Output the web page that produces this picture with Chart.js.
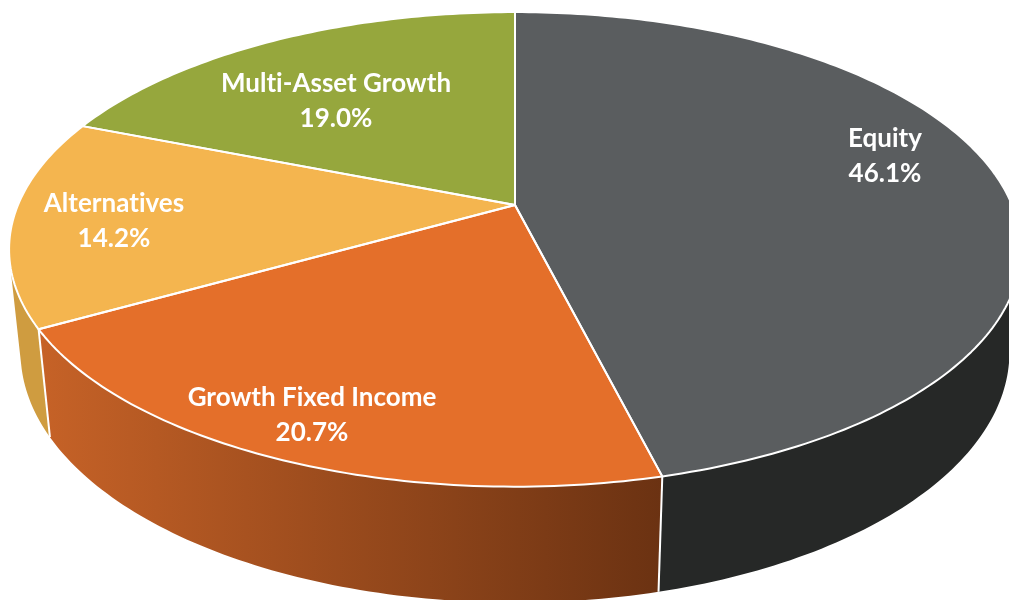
<!DOCTYPE html>
<html>
<head>
<meta charset="utf-8">
<script src="https://cdn.jsdelivr.net/npm/chart.js@4/dist/chart.umd.min.js"></script>
<style>
  html, body { margin: 0; padding: 0; background: #fff; }
  #wrap { width: 1009px; height: 600px; overflow: hidden; }
</style>
</head>
<body>
<div id="wrap"><canvas id="myChart" width="1009" height="600"></canvas></div>
<script>
const categories = ["Equity", "Growth Fixed Income", "Alternatives", "Multi-Asset Growth"];
const shares = [46.1, 20.7, 14.2, 19.0];

const faceColors = ["#5a5d5f", "#e46f2a", "#f4b54f", "#96a73d"];
// x, y of the first label line for each slice
const labelSpots = [[885, 139], [312, 398], [114, 204], [336, 84]];

// perspective of the pie: top face and the lower rim of the side wall
const topRim = { x0: 515, y0: 205, a: 497, b: 229, p: 0.187 };
const lowRim = { x0: 515, y0: 306, a: 486, b: 242, p: 0.184 };

function project(rim, angle) {
  const u = Math.cos(angle), v = Math.sin(angle);
  const s = 1 - rim.p * v;
  return [rim.x0 + rim.a * u / s, rim.y0 + rim.b * v / s];
}

function rimPath(ctx, rim, from, to, start) {
  const steps = Math.max(8, Math.ceil(Math.abs(to - from) * 60));
  for (let i = 0; i <= steps; i++) {
    const pt = project(rim, from + (to - from) * i / steps);
    if (i === 0 && start) ctx.moveTo(pt[0], pt[1]);
    else ctx.lineTo(pt[0], pt[1]);
  }
}

function wallFill(ctx, index) {
  if (index === 0) return "#262827";
  if (index === 2) return "#cf9c40";
  if (index === 1) {
    const g = ctx.createLinearGradient(40, 0, 662, 0);
    g.addColorStop(0, "#c66227");
    g.addColorStop(1, "#6b3212");
    return g;
  }
  return "#7d8b33";
}

// wall as small quads in one path so the outline follows the line between
// the two rims; all wound the same way or the folds at the sides cancel out
function drawWall(ctx, arc, fill) {
  const span = arc.endAngle - arc.startAngle;
  const steps = Math.ceil(span * 60);
  ctx.beginPath();
  for (let i = 0; i < steps; i++) {
    const a0 = arc.startAngle + span * i / steps;
    const a1 = arc.startAngle + span * (i + 1) / steps;
    const quad = [project(topRim, a0), project(topRim, a1), project(lowRim, a1), project(lowRim, a0)];
    let area = 0;
    quad.forEach((p, k) => {
      const q = quad[(k + 1) % 4];
      area += p[0] * q[1] - q[0] * p[1];
    });
    if (area < 0) quad.reverse();
    ctx.moveTo(quad[0][0], quad[0][1]);
    ctx.lineTo(quad[1][0], quad[1][1]);
    ctx.lineTo(quad[2][0], quad[2][1]);
    ctx.lineTo(quad[3][0], quad[3][1]);
    ctx.closePath();
  }
  ctx.fillStyle = fill;
  ctx.fill();
}

const pie3d = {
  id: "pie3d",
  beforeDatasetDraw(chart) {
    const ctx = chart.ctx;
    const arcs = chart.getDatasetMeta(0).data;

    // side walls first, the top face covers whatever lies behind it
    arcs.forEach((arc, i) => drawWall(ctx, arc, wallFill(ctx, i)));

    // white seams between the walls
    ctx.strokeStyle = "#ffffff";
    ctx.lineWidth = 2;
    arcs.forEach(arc => {
      const a = project(topRim, arc.endAngle);
      const b = project(lowRim, arc.endAngle);
      if (a[1] > topRim.y0 + 60) {
        ctx.beginPath();
        ctx.moveTo(a[0], a[1]);
        ctx.lineTo(b[0], b[1]);
        ctx.stroke();
      }
    });

    arcs.forEach(arc => {
      ctx.beginPath();
      ctx.moveTo(topRim.x0, topRim.y0);
      rimPath(ctx, topRim, arc.startAngle, arc.endAngle, false);
      ctx.closePath();
      ctx.fillStyle = arc.options.backgroundColor;
      ctx.fill();
    });
    arcs.forEach(arc => {
      ctx.beginPath();
      ctx.moveTo(topRim.x0, topRim.y0);
      rimPath(ctx, topRim, arc.startAngle, arc.endAngle, false);
      ctx.closePath();
      ctx.strokeStyle = arc.options.borderColor;
      ctx.lineWidth = arc.options.borderWidth;
      ctx.lineJoin = "round";
      ctx.stroke();
    });
    return false;
  },
  afterDatasetsDraw(chart) {
    const ctx = chart.ctx;
    ctx.save();
    ctx.fillStyle = "#ffffff";
    ctx.font = "bold 26px Lato";
    ctx.letterSpacing = "0.01px"; // keeps the "ti" in Alternatives apart
    ctx.textAlign = "center";
    ctx.textBaseline = "middle";
    categories.forEach((name, i) => {
      const spot = labelSpots[i];
      ctx.fillText(name, spot[0], spot[1]);
      ctx.fillText(shares[i].toFixed(1) + "%", spot[0], spot[1] + 35);
    });
    ctx.restore();
  },
};

const ctx = document.getElementById("myChart").getContext("2d");
const myChart = new Chart(ctx, {
  type: "pie",
  data: {
    labels: categories,
    datasets: [
      {
        data: shares,
        backgroundColor: faceColors,
        borderColor: "#ffffff",
        borderWidth: 2,
      },
    ],
  },
  options: {
    responsive: false,
    animation: false,
    plugins: {
      legend: { display: false },
      tooltip: { enabled: false },
    },
  },
  plugins: [pie3d],
});
</script>
</body>
</html>
